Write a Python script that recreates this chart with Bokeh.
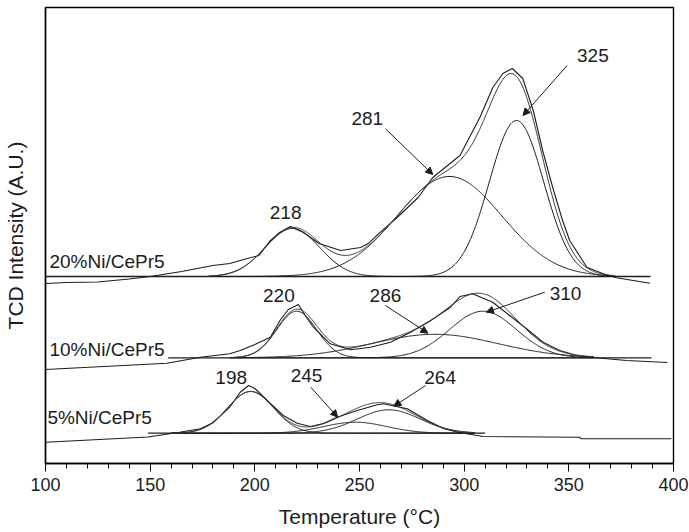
import numpy as np
from bokeh.plotting import figure
from bokeh.models import Range1d, FixedTicker, Arrow, NormalHead, Label
from bokeh.embed import file_html
from bokeh.resources import INLINE

# ---------------------------------------------------------------------------
# H2-TPR profiles of Ni/CePr5 catalysts with Gaussian deconvolution.
# Intensities are in arbitrary units; each profile is stacked on its own level.
# ---------------------------------------------------------------------------
samples = ["20%Ni/CePr5", "10%Ni/CePr5", "5%Ni/CePr5"]

# horizontal baseline of each profile: level and temperature span (°C)
baseline_level = [187.0, 105.7, 30.3]
baseline_start = [100.0, 158.6, 149.0]
baseline_end = [389.0, 389.5, 310.0]

# temperature window of each deconvolution fit (°C)
fit_start = [178.0, 188.0, 160.0]
fit_end = [372.0, 362.0, 305.0]

# Gaussian components: centre (°C), height (a.u.), standard deviation (°C)
centers_20 = [218.0, 293.0, 325.0]
heights_20 = [48.0, 100.0, 156.0]
widths_20 = [13.0, 25.0, 13.0]

centers_10 = [220.0, 286.0, 309.0]
heights_10 = [46.6, 23.5, 46.6]
widths_10 = [9.5, 30.0, 16.0]

centers_5 = [198.0, 248.0, 264.0]
heights_5 = [41.7, 11.0, 23.4]
widths_5 = [11.0, 15.0, 15.0]

# reported reduction peak temperatures (°C)
peaks_20 = [218, 281, 325]
peaks_10 = [220, 286, 310]
peaks_5 = [198, 245, 264]

# measured TCD signal
raw_T_20 = [100, 110, 125, 140, 150, 165, 180, 188, 196, 202, 207, 212, 217, 223,
            231, 241, 250.5, 254, 260, 268, 278, 285, 298, 307.5, 313.7, 318.5,
            323, 328, 333, 337.5, 342.3, 347, 350.4, 358.6, 366.4, 372.8, 388.8]
raw_I_20 = [180, 181, 181.5, 184.5, 187, 192, 198, 200, 204.7, 208, 222, 231.3,
            237, 231.3, 219.7, 213, 216, 219.7, 231.3, 246, 266, 286, 308, 346,
            376, 390, 395, 385, 353, 313, 276, 243, 223, 196.3, 189.7, 185.7, 180.3]

raw_T_10 = [100, 158, 174, 188, 193, 200, 207.4, 212, 216, 220.8, 224.6, 228, 236,
            245.7, 255.3, 264.8, 274.4, 284, 293.5, 298, 304, 313.6, 321.8, 329.8,
            337.7, 345.7, 353.7, 361.5, 377.6, 397]
raw_I_10 = [94, 100.3, 106.3, 109.7, 113, 119, 126.3, 143, 154, 159, 146.3, 136.3,
            119.7, 113.7, 116.3, 121.3, 131.3, 143, 156.3, 167, 169.7, 161.3, 148,
            134.7, 121.3, 113, 108, 106, 103, 101]

raw_T_5 = [100, 149, 164, 174, 180, 188, 193, 197, 200, 207.4, 213.6, 220.2, 226.5,
           232.8, 239.3, 248.9, 258.5, 261.5, 272.8, 282.4, 290.4, 297, 309, 355,
           356, 399]
raw_I_5 = [21.3, 26.5, 31.3, 34.7, 40.7, 56.3, 71.3, 78, 75, 60, 48, 40.3, 37,
           40, 46.3, 53, 58.7, 59.7, 54.7, 43, 34.7, 31.3, 27, 26.3, 24.7, 24.7]

INK = "#1c1c1c"
FONT = "Liberation Sans"


def gaussian(t, c, h, w):
    return h * np.exp(-((t - c) ** 2) / (2.0 * w ** 2))


p = figure(width=689, height=532,
           x_range=Range1d(100, 400), y_range=Range1d(0, 456),
           output_backend="svg", toolbar_location=None,
           min_border_left=45, min_border_right=16,
           min_border_top=7, min_border_bottom=69)

p.grid.visible = False
p.background_fill_color = "white"
p.border_fill_color = "white"
p.outline_line_color = "black"
p.outline_line_width = 1.4

# x axis: major ticks every 50 °C, minor every 10 °C, ticks pointing out
p.xaxis.ticker = FixedTicker(ticks=list(range(100, 401, 50)),
                             minor_ticks=list(range(100, 401, 10)))
p.xaxis.axis_label = "Temperature (°C)"
p.xaxis.major_tick_in = 0
p.xaxis.major_tick_out = 8
p.xaxis.minor_tick_in = 0
p.xaxis.minor_tick_out = 5
p.xaxis.major_label_standoff = 6
p.xaxis.axis_label_standoff = 11

# y axis: arbitrary units, no ticks
p.yaxis.ticker = FixedTicker(ticks=[])
p.yaxis.axis_label = "TCD Intensity (A.U.)"
p.yaxis.axis_label_standoff = 19

for ax in (p.xaxis, p.yaxis):
    ax.axis_line_color = "black"
    ax.axis_line_width = 1.4
    ax.major_tick_line_color = "black"
    ax.minor_tick_line_color = "black"
    ax.major_label_text_font = FONT
    ax.major_label_text_font_size = "18px"
    ax.major_label_text_color = INK
    ax.axis_label_text_font = FONT
    ax.axis_label_text_font_size = "21px"
    ax.axis_label_text_font_style = "normal"
    ax.axis_label_text_color = INK

profiles = [
    (centers_20, heights_20, widths_20, raw_T_20, raw_I_20),
    (centers_10, heights_10, widths_10, raw_T_10, raw_I_10),
    (centers_5, heights_5, widths_5, raw_T_5, raw_I_5),
]

for i, (cs, hs, ws, rt, ri) in enumerate(profiles):
    base = baseline_level[i]
    # straight baseline
    p.line([baseline_start[i], baseline_end[i]], [base, base],
           line_color=INK, line_width=1.3)
    # measured signal
    p.line(rt, ri, line_color=INK, line_width=1.1)
    # deconvoluted components and their sum
    t = np.linspace(fit_start[i], fit_end[i], 400)
    total = np.full_like(t, base)
    for c, h, w in zip(cs, hs, ws):
        comp = gaussian(t, c, h, w)
        total += comp
        p.line(t, base + comp, line_color=INK, line_width=1.0)
    p.line(t, total, line_color="#3a3a3a", line_width=1.0)

# sample names
sample_x = [101.9, 101.9, 100.9]
sample_y = [202.3, 114.0, 46.3]
for name, sx, sy in zip(samples, sample_x, sample_y):
    p.add_layout(Label(x=sx, y=sy, text=name, text_font=FONT,
                       text_font_size="19px", text_color=INK,
                       text_align="left", text_baseline="middle"))

# peak temperature labels
peak_values = peaks_20 + peaks_10 + peaks_5
label_x = [214.7, 253.7, 361.5, 211.5, 262.4, 348.4, 188.7, 224.7, 288.5]
label_y = [251.3, 344.7, 408.0, 168.0, 168.0, 169.7, 85.7, 88.0, 86.3]
for v, lx, ly in zip(peak_values, label_x, label_y):
    p.add_layout(Label(x=lx, y=ly, text=str(v), text_font=FONT,
                       text_font_size="19px", text_color=INK,
                       text_align="center", text_baseline="middle"))

# arrows from labels to the peaks they name
arrow_from = [(262.4, 334.7), (349.2, 398.0), (262.4, 158.0),
              (338.5, 171.3), (226.7, 76.3), (281.6, 78.0)]
arrow_to = [(285.0, 289.0), (328.1, 348.0), (282.7, 130.3),
            (310.6, 151.3), (239.6, 46.3), (266.4, 57.3)]
for (x0, y0), (x1, y1) in zip(arrow_from, arrow_to):
    p.add_layout(Arrow(x_start=x0, y_start=y0, x_end=x1, y_end=y1,
                       line_color=INK, line_width=1.0,
                       end=NormalHead(size=7, fill_color=INK, line_color=INK)))

open("out.html", "w").write(file_html(p, INLINE))
